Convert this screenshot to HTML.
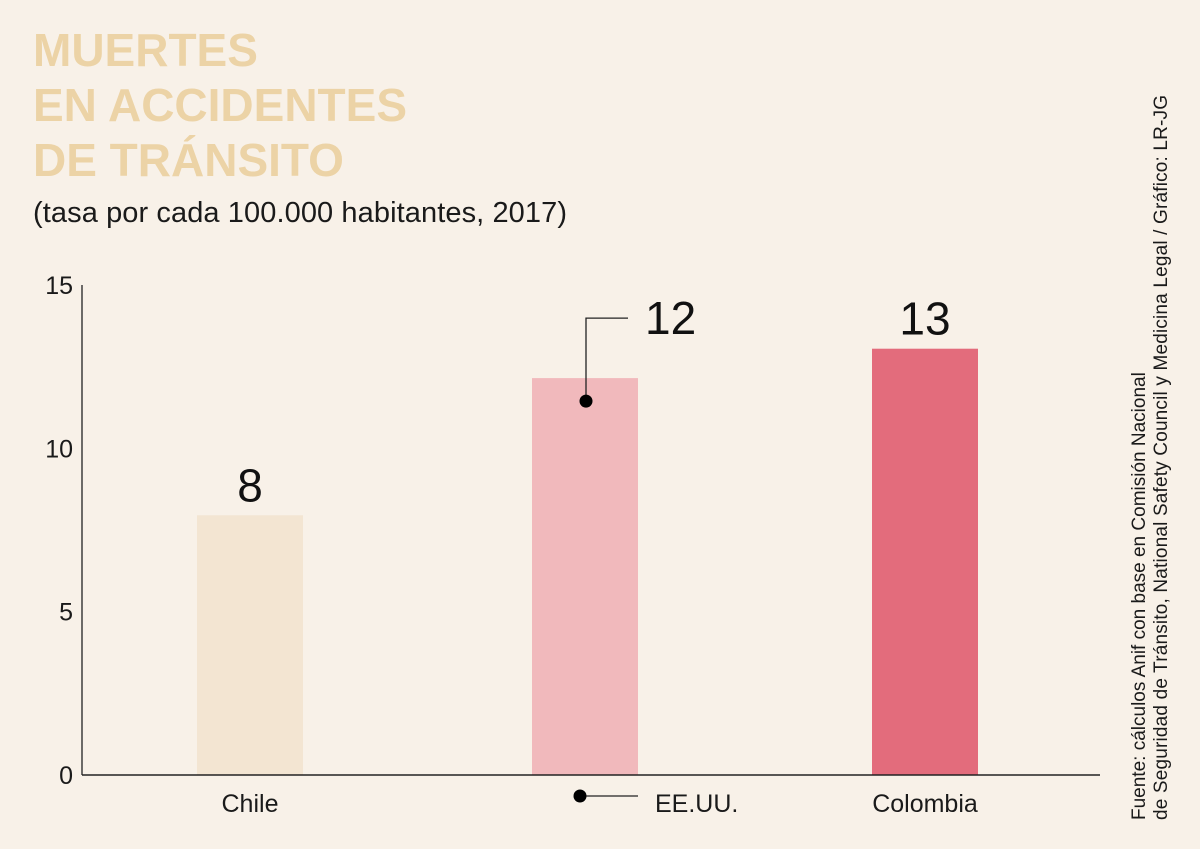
<!DOCTYPE html>
<html><head><meta charset="utf-8"><style>
body{margin:0;background:#f8f1e8;}
svg{display:block;font-family:"Liberation Sans",sans-serif;}
</style></head><body>
<svg width="1200" height="849" viewBox="0 0 1200 849">
<rect width="1200" height="849" fill="#f8f1e8"/>
<g fill="#ecd3a6" font-weight="bold" font-size="46">
<text x="33" y="66">MUERTES</text>
<text x="33" y="121">EN ACCIDENTES</text>
<text x="33" y="176">DE TRÁNSITO</text>
</g>
<text x="33" y="222" font-size="29" textLength="534" fill="#1a1a1a">(tasa por cada 100.000 habitantes, 2017)</text>
<g id="plot"></g>
<text transform="translate(1145,820) rotate(-90)" font-size="19" fill="#1a1a1a">Fuente: cálculos Anif con base en Comisión Nacional</text>
<text transform="translate(1167,820) rotate(-90)" font-size="19" textLength="725" fill="#1a1a1a">de Seguridad de Tránsito, National Safety Council y Medicina Legal / Gráfico: LR-JG</text>
</svg>
<script>
const categories=["Chile","EE.UU.","Colombia"];
const values=[7.95,12.15,13.05];
const labels=["8","12","13"];
const ticks=[0,5,10,15];
const colors=["#f3e5d2","#f1b9bc","#e36c7c"];
const NS="http://www.w3.org/2000/svg";
const g=document.getElementById("plot");
const y0=775,y1=285,vmax=15;
const y=v=>y0-(y0-y1)*v/vmax;
const xc=[250,585,925];
const bw=106;
function mk(t,a,txt){const e=document.createElementNS(NS,t);for(const k in a)e.setAttribute(k,a[k]);if(txt!=null)e.textContent=txt;g.appendChild(e);return e;}
ticks.forEach(t=>{
 const e=mk("text",{x:73,y:y(t)+9,"text-anchor":"end","font-size":"25",fill:"#1a1a1a"},String(t));
 
 
});
categories.forEach((c,i)=>{
 const r=mk("rect",{x:xc[i]-bw/2,y:y(values[i]),width:bw,height:y0-y(values[i]),fill:colors[i]});
 
 
 if(i!==1){
  const l=mk("text",{x:xc[i],y:y(values[i])-14,"text-anchor":"middle","font-size":"46",fill:"#111"},labels[i]);
  
  
  const xl=mk("text",{x:xc[i],y:812,"text-anchor":"middle","font-size":"25",fill:"#1a1a1a"},c);
  
  
 } else {
  const yt=y(values[i]);
  const p=mk("polyline",{points:`586,${yt+23} 586,${yt-60} 628,${yt-60}`,fill:"none",stroke:"#222","stroke-width":"1.3"});
  
  
  const d=mk("circle",{cx:586,cy:yt+23,r:6.5,fill:"#000"});
  
  
  const l=mk("text",{x:645,y:yt-44,"font-size":"46",fill:"#111"},labels[i]);
  
  
  const p2=mk("line",{x1:580,y1:796,x2:638,y2:796,stroke:"#222","stroke-width":"1.3"});
  
  
  const d2=mk("circle",{cx:580,cy:796,r:6.5,fill:"#000"});
  
  
  const xl=mk("text",{x:655,y:812,"font-size":"25",fill:"#1a1a1a"},c);
  
  
 }
});
const ax=mk("line",{x1:82,y1:y1,x2:82,y2:y0,stroke:"#222","stroke-width":"1.3"});


const bx=mk("line",{x1:82,y1:y0,x2:1100,y2:y0,stroke:"#222","stroke-width":"1.5"});


</script>
</body></html>
